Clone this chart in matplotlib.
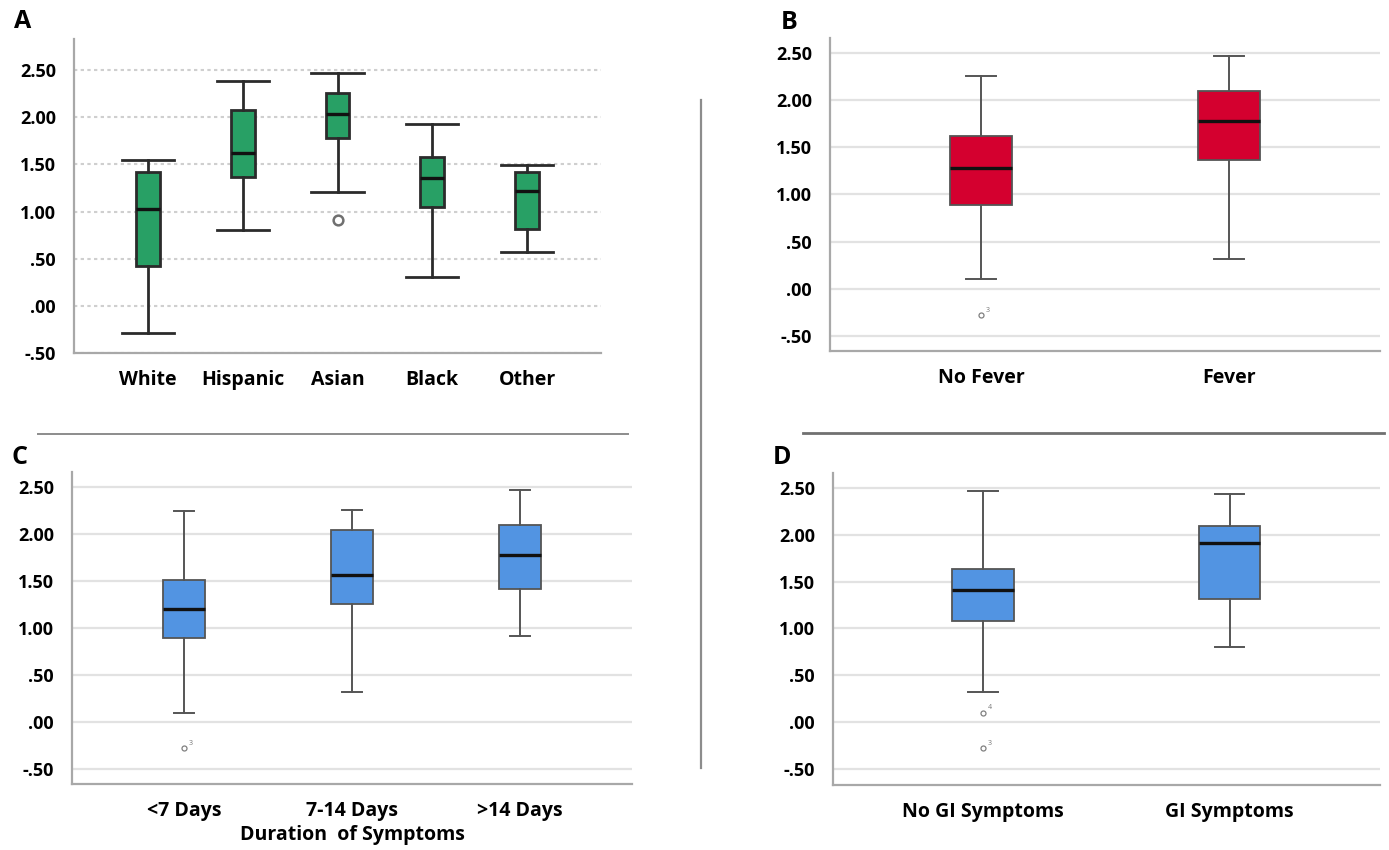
import matplotlib
matplotlib.use('Agg')
import matplotlib.pyplot as plt
from matplotlib.lines import Line2D

plt.rcParams['font.family'] = ['Open Sans', 'DejaVu Sans']
plt.rcParams['font.weight'] = 'bold'

# panel A - race / ethnicity
race_labels = ['White', 'Hispanic', 'Asian', 'Black', 'Other']
race_whislo = [-0.29, 0.80, 1.21, 0.31, 0.57]
race_q1 = [0.42, 1.37, 1.78, 1.05, 0.82]
race_med = [1.03, 1.62, 2.03, 1.36, 1.22]
race_q3 = [1.42, 2.08, 2.26, 1.58, 1.42]
race_whishi = [1.55, 2.38, 2.47, 1.93, 1.49]
race_fliers = [[], [], [0.91], [], []]
race_flier_ids = [[], [], [''], [], []]

# panel B - fever
fever_labels = ['No Fever', 'Fever']
fever_whislo = [0.10, 0.32]
fever_q1 = [0.89, 1.37]
fever_med = [1.28, 1.78]
fever_q3 = [1.62, 2.10]
fever_whishi = [2.26, 2.47]
fever_fliers = [[-0.28], []]
fever_flier_ids = [['3'], []]

# panel C - duration of symptoms
dur_labels = ['<7 Days', '7-14 Days', '>14 Days']
dur_whislo = [0.10, 0.32, 0.91]
dur_q1 = [0.89, 1.26, 1.41]
dur_med = [1.20, 1.56, 1.78]
dur_q3 = [1.51, 2.04, 2.10]
dur_whishi = [2.24, 2.26, 2.47]
dur_fliers = [[-0.28], [], []]
dur_flier_ids = [['3'], [], []]

# panel D - GI symptoms
gi_labels = ['No GI Symptoms', 'GI Symptoms']
gi_whislo = [0.32, 0.80]
gi_q1 = [1.08, 1.31]
gi_med = [1.41, 1.91]
gi_q3 = [1.64, 2.09]
gi_whishi = [2.47, 2.44]
gi_fliers = [[0.10, -0.28], []]
gi_flier_ids = [['4', '3'], []]

yticks = [-0.5, 0.0, 0.5, 1.0, 1.5, 2.0, 2.5]
ytick_labels = ['-.50', '.00', '.50', '1.00', '1.50', '2.00', '2.50']


def make_stats(labels, whislo, q1, med, q3, whishi, fliers):
    """
    Builds the stats dicts that bxp wants
    :return: list of dicts
    """
    stats = []
    for i in range(len(labels)):
        stats.append({'label': labels[i], 'whislo': whislo[i], 'q1': q1[i], 'med': med[i],
                      'q3': q3[i], 'whishi': whishi[i], 'fliers': fliers[i]})
    return stats


def draw_panel(ax, stats, ids, color, spss_old=False, xlim=None, ylim=None, capw=0.12):
    """
    Draws one boxplot panel
    :param ax: axes
    :param stats: box stats
    :param ids: case ids written next to outliers
    :param color: box fill color
    :param spss_old: style of panel A (thick black lines, dotted grid)
    """
    n = len(stats)
    pos = list(range(n))
    if spss_old:
        edge, lw, wlw = '#2b2b2b', 2.0, 2.0
        flier = dict(marker='o', markersize=7, markerfacecolor='white',
                     markeredgecolor='#707070', markeredgewidth=1.8, linestyle='none')
    else:
        edge, lw, wlw = '#555555', 1.3, 1.4
        flier = dict(marker='o', markersize=3.6, markerfacecolor='white',
                     markeredgecolor='#808080', markeredgewidth=0.9, linestyle='none')
    ax.bxp(stats, positions=pos, widths=0.25, capwidths=capw, patch_artist=True,
           boxprops=dict(facecolor=color, edgecolor=edge, linewidth=lw),
           medianprops=dict(color='#111111', linewidth=2.4),
           whiskerprops=dict(color=edge, linewidth=wlw),
           capprops=dict(color=edge, linewidth=wlw),
           flierprops=flier, zorder=3)

    for i, st in enumerate(stats):
        for v, lab in zip(st['fliers'], ids[i]):
            if lab:
                ax.annotate(lab, (pos[i], v), xytext=(3.5, 2.5), textcoords='offset points',
                            fontsize=5, color='#777777', fontweight='normal')

    ax.set_xlim(xlim)
    ax.set_ylim(ylim)
    ax.set_yticks(yticks)
    ax.set_yticklabels(ytick_labels)
    ax.tick_params(axis='both', length=0)
    ax.tick_params(axis='y', pad=13, labelsize=13)
    ax.tick_params(axis='x', pad=12, labelsize=14)
    for s in ['top', 'right']:
        ax.spines[s].set_visible(False)
    for s in ['left', 'bottom']:
        ax.spines[s].set_color('#a8a8a8')
        ax.spines[s].set_linewidth(1.6)
    if spss_old:
        ax.grid(axis='y', color='#cfcfcf', linewidth=1.5, linestyle=(0, (1.6, 1.6)))
    else:
        ax.grid(axis='y', color='#e2e2e2', linewidth=1.6)
    ax.set_axisbelow(True)


fig = plt.figure(figsize=(13.89, 8.5), dpi=100)

ax_a = fig.add_axes([0.0533, 0.5847, 0.3794, 0.3694])
ax_b = fig.add_axes([0.5976, 0.5871, 0.3960, 0.3682])
ax_c = fig.add_axes([0.0518, 0.0776, 0.4032, 0.3671])
ax_d = fig.add_axes([0.5997, 0.0765, 0.3938, 0.3671])

draw_panel(ax_a, make_stats(race_labels, race_whislo, race_q1, race_med, race_q3, race_whishi, race_fliers),
           race_flier_ids, '#28a065', spss_old=True, xlim=(-0.78, 4.78), ylim=(-0.5, 2.83), capw=0.55)
draw_panel(ax_b, make_stats(fever_labels, fever_whislo, fever_q1, fever_med, fever_q3, fever_whishi, fever_fliers),
           fever_flier_ids, '#d4002f', xlim=(-0.61, 1.61), ylim=(-0.66, 2.66))
draw_panel(ax_c, make_stats(dur_labels, dur_whislo, dur_q1, dur_med, dur_q3, dur_whishi, dur_fliers),
           dur_flier_ids, '#5294e2', xlim=(-0.667, 2.667), ylim=(-0.66, 2.66))
draw_panel(ax_d, make_stats(gi_labels, gi_whislo, gi_q1, gi_med, gi_q3, gi_whishi, gi_fliers),
           gi_flier_ids, '#5294e2', xlim=(-0.61, 1.61), ylim=(-0.67, 2.66))

ax_c.set_xlabel('Duration  of Symptoms', fontsize=14, fontweight='bold', labelpad=3)

# panel letters
fig.text(0.010, 0.975, 'A', fontsize=18, fontweight='bold', va='center')
fig.text(0.562, 0.973, 'B', fontsize=18, fontweight='bold', va='center')
fig.text(0.008, 0.462, 'C', fontsize=18, fontweight='bold', va='center')
fig.text(0.556, 0.462, 'D', fontsize=18, fontweight='bold', va='center')

# separator lines
fig.add_artist(Line2D([0.0274, 0.4521], [0.4894, 0.4894], color='#8c8c8c', linewidth=1.4))
fig.add_artist(Line2D([0.578, 0.9964], [0.4906, 0.4906], color='#707070', linewidth=2.0))
fig.add_artist(Line2D([0.5047, 0.5047], [0.8824, 0.0965], color='#8c8c8c', linewidth=1.6))

plt.savefig('out.png', dpi=100)
